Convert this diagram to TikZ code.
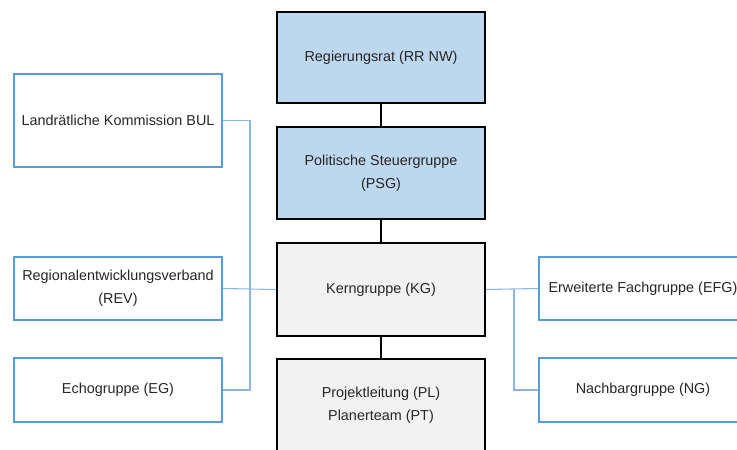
\documentclass[tikz,border=0pt]{standalone}
\usepackage{fontspec}
\setmainfont{Liberation Sans}
\definecolor{topblue}{HTML}{BDD7EE}
\definecolor{midgray}{HTML}{F2F2F2}
\definecolor{sideblue}{HTML}{5B9BD5}
\definecolor{linkblue}{HTML}{8EB4E3}
\definecolor{txt}{HTML}{262626}
\begin{document}
\begin{tikzpicture}[x=0.75pt,y=-0.75pt,
  box/.style={rectangle,draw=black,line width=1.5pt,minimum width=156pt,align=center,
    font=\fontsize{10.8}{17}\selectfont,text=txt,inner sep=0pt},
  topbox/.style={box,fill=topblue},
  graybox/.style={box,fill=midgray},
  sidebox/.style={box,draw=sideblue,line width=1.5pt,fill=white},
  spine/.style={draw=black,line width=1.5pt},
  link/.style={draw=linkblue,line width=0.8pt}]
\useasboundingbox (0,0) rectangle (737,449);
\clip (0,0) rectangle (737,449);
% central column
\node[topbox,minimum height=68.25pt] (rr) at (381,57.5) {Regierungsrat (RR NW)};
\node[topbox,minimum height=69pt] (psg) at (381,173) {Politische Steuergruppe\\(PSG)};
\node[graybox,minimum height=69.75pt] (kg) at (381,289.5) {Kerngruppe (KG)};
\node[graybox,minimum height=69.75pt] (pl) at (381,405) {Projektleitung (PL)\\Planerteam (PT)};
% left column
\node[sidebox,minimum height=69.75pt] (bul) at (118,120.5) {Landrätliche Kommission BUL};
\node[sidebox,minimum height=47.25pt] (rev) at (118,288.5) {Regionalentwicklungsverband\\(REV)};
\node[sidebox,minimum height=48pt] (eg) at (118,390) {Echogruppe (EG)};
% right column
\node[sidebox,minimum height=47.25pt] (efg) at (643,288.5) {Erweiterte Fachgruppe (EFG)};
\node[sidebox,minimum height=48pt] (ng) at (643,390) {Nachbargruppe (NG)};
% connectors
\draw[spine] (rr) -- (psg);
\draw[spine] (psg) -- (kg);
\draw[spine] (kg) -- (pl);
\coordinate (lj) at (250,289);
\coordinate (rj) at (514,289);
\draw[link] (bul.east) -| (lj) |- (eg.east);
\draw[link] (rev.east) -- (kg.west);
\draw[link] (kg.east) -- (efg.west);
\draw[link] (rj) |- (ng.west);
\end{tikzpicture}
\end{document}
